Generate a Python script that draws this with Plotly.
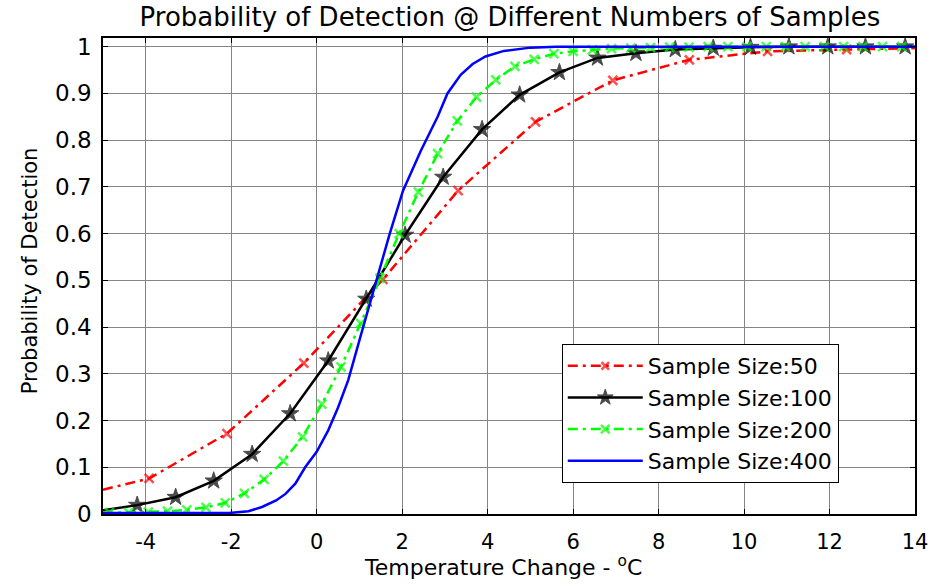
import plotly.graph_objects as go

# ---- data ----
red_x = [-5.0, -3.92, -2.10, -0.30, 1.55, 3.31, 5.12, 6.93, 8.72, 10.55, 12.40, 14.0]
red_y = [0.052, 0.076, 0.172, 0.323, 0.502, 0.692, 0.839, 0.928, 0.972, 0.990, 0.994, 0.997]
red_marked = [0, 1, 1, 1, 1, 1, 1, 1, 1, 1, 1, 0]

black_x = [-5.0, -4.20, -3.30, -2.41, -1.51, -0.62, 0.27, 1.16, 2.07, 2.96, 3.87, 4.75, 5.68,
           6.57, 7.47, 8.39, 9.28, 10.15, 11.05, 11.96, 12.84, 13.77, 14.0]
black_y = [0.008, 0.019, 0.036, 0.071, 0.128, 0.215, 0.328, 0.460, 0.597, 0.721, 0.823, 0.897, 0.945,
           0.976, 0.986, 0.994, 0.997, 0.999, 1.0, 1.0, 1.0, 1.0, 1.0]
black_marked = [0] + [1] * 21 + [0]

green_x = [-5.0, -4.85, -4.40, -3.94, -3.49, -3.04, -2.59, -2.14, -1.69, -1.23, -0.78, -0.33, 0.12,
           0.57, 1.03, 1.48, 1.93, 2.38, 2.83, 3.29, 3.74, 4.19, 4.64, 5.09, 5.55, 6.00,
           6.45, 6.90, 7.35, 7.81, 8.26, 8.71, 9.16, 9.62, 10.07, 10.52, 10.97, 11.43,
           11.88, 12.33, 12.78, 13.24, 13.69, 14.0]
green_y = [0.002, 0.003, 0.003, 0.004, 0.006, 0.009, 0.014, 0.024, 0.044, 0.074, 0.113, 0.165, 0.235,
           0.315, 0.408, 0.504, 0.600, 0.689, 0.771, 0.841, 0.892, 0.929, 0.958, 0.973, 0.985, 0.990,
           0.993, 0.996, 0.997, 0.998, 0.999, 0.999, 1.0, 1.0, 1.0, 1.0, 1.0, 1.0,
           1.0, 1.0, 1.0, 1.0, 1.0, 1.0]
green_marked = [0] + [1] * 42 + [0]

blue_x = [-5.0, -2.05, -1.60, -1.28, -0.95, -0.73, -0.50, -0.27, 0.0, 0.27, 0.50, 0.74, 1.09,
          1.40, 1.71, 2.02, 2.44, 2.83, 3.06, 3.37, 3.65, 3.95, 4.38, 5.00, 5.60, 14.0]
blue_y = [0.002, 0.002, 0.006, 0.015, 0.029, 0.043, 0.065, 0.100, 0.133, 0.179, 0.228, 0.287, 0.401,
          0.500, 0.600, 0.692, 0.778, 0.850, 0.900, 0.940, 0.963, 0.979, 0.991, 0.998, 1.0, 1.0]

names = ["Sample Size:50", "Sample Size:100", "Sample Size:200", "Sample Size:400"]
x_ticks = [-4, -2, 0, 2, 4, 6, 8, 10, 12, 14]
y_ticks = [0, 0.1, 0.2, 0.3, 0.4, 0.5, 0.6, 0.7, 0.8, 0.9, 1]
y_tick_text = ["0", "0.1", "0.2", "0.3", "0.4", "0.5", "0.6", "0.7", "0.8", "0.9", "1"]
title_text = "Probability of Detection @ Different Numbers of Samples"
x_title = "Temperature Change - <sup>o</sup>C"
y_title = "Probability of Detection"

FONT = "DejaVu Sans, Liberation Sans, Arial, sans-serif"

fig = go.Figure()

def sizes(flags, s):
    return [s if f else 0 for f in flags]

fig.add_trace(go.Scatter(
    x=red_x, y=red_y, name=names[0], mode="lines+markers",
    line=dict(color="#ff0000", width=2.5, dash="10px,5px,3px,5px"),
    marker=dict(symbol="x-thin-open", size=sizes(red_marked, 9),
                line=dict(color="#ff0000", width=2.5), color="#ff0000"),
))
fig.add_trace(go.Scatter(
    x=black_x, y=black_y, name=names[1], mode="lines+markers",
    line=dict(color="#000000", width=2.5),
    marker=dict(symbol="star", size=sizes(black_marked, 13), color="#000000",
                line=dict(color="#000000", width=1)),
))
fig.add_trace(go.Scatter(
    x=green_x, y=green_y, name=names[2], mode="lines+markers",
    line=dict(color="#00ff00", width=2.5, dash="10px,5px,3px,5px"),
    marker=dict(symbol="x-thin-open", size=sizes(green_marked, 9),
                line=dict(color="#00ff00", width=2.5), color="#00ff00"),
))
fig.add_trace(go.Scatter(
    x=blue_x, y=blue_y, name=names[3], mode="lines",
    line=dict(color="#0000ff", width=2.5),
))

fig.update_layout(
    width=940, height=584,
    margin=dict(l=103, r=19, t=38, b=70),
    paper_bgcolor="white", plot_bgcolor="white",
    font=dict(family=FONT, size=22, color="black"),
    title=dict(text=title_text, x=0.5425, xanchor="center",
               y=0.971, yanchor="middle",
               font=dict(family=FONT, size=26, color="black")),
    showlegend=True,
    legend=dict(x=0.565, y=0.357, xanchor="left", yanchor="top",
                bgcolor="white", bordercolor="black", borderwidth=1,
                font=dict(family=FONT, size=22, color="black"),
                itemwidth=75, tracegroupgap=0),
    annotations=[
        dict(text=x_title, xref="paper", yref="paper", x=0.4925, y=0,
             xanchor="center", yanchor="middle", yshift=-52, showarrow=False,
             font=dict(family=FONT, size=22, color="black")),
        dict(text=y_title, xref="paper", yref="paper", x=0, y=0.51,
             xanchor="center", yanchor="middle", xshift=-73, textangle=-90,
             showarrow=False, font=dict(family=FONT, size=21, color="black")),
    ],
)
fig.update_xaxes(
    range=[-5, 14], tickvals=x_ticks, ticktext=[str(v) for v in x_ticks],
    showgrid=True, gridcolor="#858585", gridwidth=1,
    showline=True, linecolor="black", linewidth=1.5, mirror="ticks",
    ticks="inside", ticklen=5, tickcolor="black", zeroline=False,
    tickfont=dict(family=FONT, size=21), ticklabelstandoff=8,
)
fig.update_yaxes(
    range=[0, 1.0186], tickvals=y_ticks, ticktext=y_tick_text,
    showgrid=True, gridcolor="#858585", gridwidth=1,
    showline=True, linecolor="black", linewidth=1.5, mirror="ticks",
    ticks="inside", ticklen=5, tickcolor="black", zeroline=False,
    tickfont=dict(family=FONT, size=23), ticklabelstandoff=5,
)

fig.write_html("out.html")
